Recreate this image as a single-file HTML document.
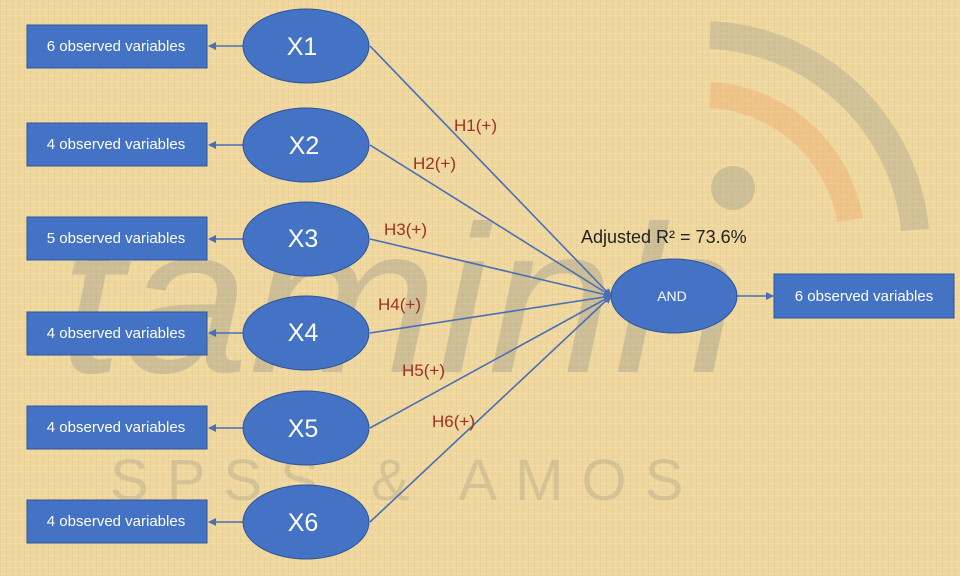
<!DOCTYPE html>
<html><head><meta charset="utf-8"><style>
html,body{margin:0;padding:0;}
body{width:960px;height:576px;overflow:hidden;background:#eed59e;}
svg{display:block;font-family:"Liberation Sans",sans-serif;}
</style></head><body>
<svg width="960" height="576" viewBox="0 0 960 576" xmlns="http://www.w3.org/2000/svg">
<defs>
<marker id="a" markerWidth="8" markerHeight="8" refX="7" refY="4" orient="auto" markerUnits="userSpaceOnUse"><path d="M0,0 L8,4 L0,8 z" fill="#4a6fb5"/></marker>
<pattern id="p" width="6" height="6" patternUnits="userSpaceOnUse"><rect width="6" height="6" fill="#efd7a0"/><rect x="0" y="0" width="1" height="6" fill="#e6cb8e" opacity=".6"/><rect x="0" y="3" width="6" height="1" fill="#f5e2b4" opacity=".5"/></pattern>
</defs>
<rect width="960" height="576" fill="url(#p)"/>
<!-- watermark -->
<path d="M710 35 A215 215 0 0 1 915 230" fill="none" stroke="#9a9a8a" stroke-width="28" opacity=".35"/>
<path d="M710 95 A150 150 0 0 1 850 220" fill="none" stroke="#f0a060" stroke-width="26" opacity=".35"/>
<circle cx="733" cy="188" r="22" fill="#9a9a8a" opacity=".4"/>
<text x="60" y="372" font-size="210" font-style="italic" fill="#8a8e88" opacity=".33" textLength="680" lengthAdjust="spacingAndGlyphs">taminh</text>
<text x="110" y="500" font-size="58" fill="#8a8a80" opacity=".25" letter-spacing="18">SPSS &amp; AMOS</text>
<!-- connectors -->
<g stroke="#4a6fb5" stroke-width="1.6" fill="none">
<line x1="243" y1="46" x2="209" y2="46" marker-end="url(#a)"/>
<line x1="243" y1="145" x2="209" y2="145" marker-end="url(#a)"/>
<line x1="243" y1="239" x2="209" y2="239" marker-end="url(#a)"/>
<line x1="243" y1="333" x2="209" y2="333" marker-end="url(#a)"/>
<line x1="243" y1="428" x2="209" y2="428" marker-end="url(#a)"/>
<line x1="243" y1="522" x2="209" y2="522" marker-end="url(#a)"/>
<line x1="370" y1="46" x2="611" y2="296" marker-end="url(#a)"/>
<line x1="370" y1="145" x2="611" y2="296" marker-end="url(#a)"/>
<line x1="370" y1="239" x2="611" y2="296" marker-end="url(#a)"/>
<line x1="370" y1="333" x2="611" y2="296" marker-end="url(#a)"/>
<line x1="370" y1="428" x2="611" y2="296" marker-end="url(#a)"/>
<line x1="370" y1="522" x2="611" y2="296" marker-end="url(#a)"/>
<line x1="737" y1="296" x2="773" y2="296" marker-end="url(#a)"/>
</g>
<!-- boxes -->
<g fill="#4472c4" stroke="#2f5597" stroke-width="1">
<rect x="27" y="25" width="180" height="43"/>
<rect x="27" y="123" width="180" height="43"/>
<rect x="27" y="217" width="180" height="43"/>
<rect x="27" y="312" width="180" height="43"/>
<rect x="27" y="406" width="180" height="43"/>
<rect x="27" y="500" width="180" height="43"/>
<rect x="774" y="274" width="180" height="44"/>
<ellipse cx="306" cy="46" rx="63" ry="37"/>
<ellipse cx="306" cy="145" rx="63" ry="37"/>
<ellipse cx="306" cy="239" rx="63" ry="37"/>
<ellipse cx="306" cy="333" rx="63" ry="37"/>
<ellipse cx="306" cy="428" rx="63" ry="37"/>
<ellipse cx="306" cy="522" rx="63" ry="37"/>
<ellipse cx="674" cy="296" rx="63" ry="37"/>
</g>
<g fill="#fff" font-size="15" text-anchor="middle">
<text x="116" y="51">6 observed variables</text>
<text x="116" y="149">4 observed variables</text>
<text x="116" y="243">5 observed variables</text>
<text x="116" y="338">4 observed variables</text>
<text x="116" y="432">4 observed variables</text>
<text x="116" y="526">4 observed variables</text>
<text x="864" y="301">6 observed variables</text>
<text x="672" y="301" font-size="14">AND</text>
</g>
<g fill="#fff" font-size="25" text-anchor="middle">
<text x="302" y="55">X1</text>
<text x="304" y="154">X2</text>
<text x="303" y="247">X3</text>
<text x="303" y="341">X4</text>
<text x="303" y="437">X5</text>
<text x="303" y="531">X6</text>
</g>
<g fill="#a03020" font-size="17">
<text x="454" y="131">H1(+)</text>
<text x="413" y="169">H2(+)</text>
<text x="384" y="235">H3(+)</text>
<text x="378" y="310">H4(+)</text>
<text x="402" y="376">H5(+)</text>
<text x="432" y="427">H6(+)</text>
</g>
<text x="581" y="243" font-size="18" fill="#222">Adjusted R² = 73.6%</text>
</svg>
</body></html>
